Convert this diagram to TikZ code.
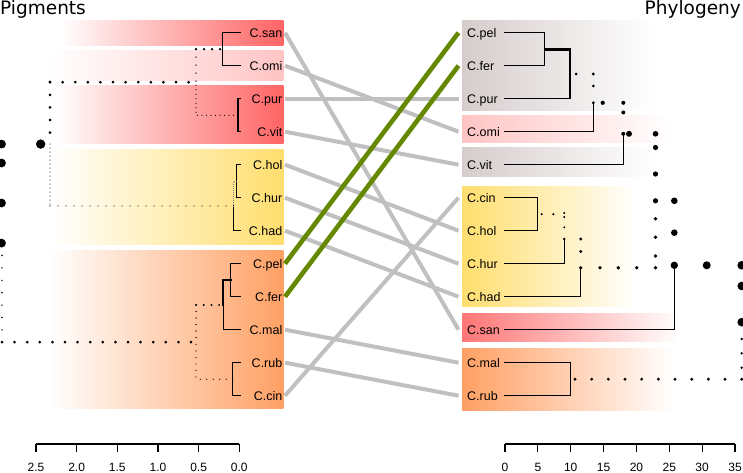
\documentclass[tikz,border=0pt]{standalone}
\usepackage{fontspec}
\setmainfont{Liberation Sans}
\newfontfamily\titlefont{DejaVu Sans}
\definecolor{redL}{RGB}{255,100,100}
\definecolor{pinkL}{RGB}{255,196,196}
\definecolor{yelL}{RGB}{255,222,110}
\definecolor{oraL}{RGB}{255,160,100}
\definecolor{greyR}{RGB}{214,204,204}
\definecolor{redR}{RGB}{255,118,118}
\definecolor{greenC}{RGB}{100,136,0}
\definecolor{greyC}{RGB}{192,192,192}
\begin{document}
\begin{tikzpicture}[x=1pt,y=-1pt,
  lab/.style={font=\fontsize{12.5}{14}\selectfont, inner ysep=0pt, text height=9pt, text depth=0pt},
  labl/.style={lab, anchor=east, inner xsep=2.5pt},
  labr/.style={lab, anchor=west, inner xsep=8.5pt},
  ttl/.style={font=\titlefont\fontsize{18.5}{20}\selectfont, inner sep=0pt},
  axl/.style={font=\fontsize{12}{14}\selectfont, inner sep=0pt, text height=8.6pt, text depth=0pt},
  axline/.style={line width=1.1pt, black},
  tree/.style={line width=1.1pt, black, line cap=rect},
  conn/.style={line width=4pt, greyC},
  gconn/.style={line width=4.6pt, greenC},
  dotl/.style 2 args={line width=#1, line cap=round, dash pattern=on 0pt off #2, black}]
\useasboundingbox (0,0) rectangle (743,473);
\clip (0,0) rectangle (743,473);

% ---------- titles
\node[ttl, anchor=base west] (tpig) at (0,15) {Pigments};
\node[ttl, anchor=base east] (tphy) at (741,15) {Phylogeny};

% ---------- left bands
\shade[left color=white, right color=redL] (60,21) rectangle (283.3,46);
\shade[left color=white, right color=pinkL] (50,51) rectangle (283.3,80.7);
\shade[left color=white, right color=redL] (55,86) rectangle (283.3,143.3);
\shade[left color=white, right color=yelL] (50,149.3) rectangle (283.3,244);
\shade[left color=white, right color=oraL] (50,250.7) rectangle (283.3,408.3);

% ---------- right bands
\shade[left color=greyR, right color=white] (462,21) rectangle (653,111);
\shade[left color=pinkL, right color=white] (462,116) rectangle (670,142.7);
\shade[left color=greyR, right color=white] (462,148) rectangle (653,176);
\shade[left color=yelL, right color=white] (462,186) rectangle (637,306);
\shade[left color=redR, right color=white] (462,313.3) rectangle (680,341.7);
\shade[left color=oraL, right color=white] (462,348.3) rectangle (673,410);

% ---------- left labels
\node[labl] (Lsan) at (285,32.7) {C.san};
\node[labl] (Lomi) at (285,65.7) {C.omi};
\node[labl] (Lpur) at (285,98.7) {C.pur};
\node[labl] (Lvit) at (285,131.7) {C.vit};
\node[labl] (Lhol) at (285,164.7) {C.hol};
\node[labl] (Lhur) at (285,197.7) {C.hur};
\node[labl] (Lhad) at (285,230.7) {C.had};
\node[labl] (Lpel) at (285,263.7) {C.pel};
\node[labl] (Lfer) at (285,296.7) {C.fer};
\node[labl] (Lmal) at (285,329.7) {C.mal};
\node[labl] (Lrub) at (285,362.7) {C.rub};
\node[labl] (Lcin) at (285,395.7) {C.cin};

% ---------- right labels
\node[labr] (Rpel) at (458.5,32.7) {C.pel};
\node[labr] (Rfer) at (458.5,65.7) {C.fer};
\node[labr] (Rpur) at (458.5,98.7) {C.pur};
\node[labr] (Romi) at (458.5,131.7) {C.omi};
\node[labr] (Rvit) at (458.5,164.7) {C.vit};
\node[labr] (Rcin) at (458.5,197.7) {C.cin};
\node[labr] (Rhol) at (458.5,230.7) {C.hol};
\node[labr] (Rhur) at (458.5,263.7) {C.hur};
\node[labr] (Rhad) at (458.5,296.7) {C.had};
\node[labr] (Rsan) at (458.5,329.7) {C.san};
\node[labr] (Rmal) at (458.5,362.7) {C.mal};
\node[labr] (Rrub) at (458.5,395.7) {C.rub};

% ---------- connectors
\foreach \n in {san,omi,pur,vit,hol,hur,had,mal,rub,cin}
  \draw[conn] (L\n.east) -- (R\n.west);
\draw[gconn] (Lpel.east) -- (Rpel.west);
\draw[gconn] (Lfer.east) -- (Rfer.west);

% ---------- left tree (solid)
\draw[tree] (240,32.7) -- (222.7,32.7) -- (222.7,65.7) -- (240,65.7);
\draw[tree] (240,98.7) -- (238,98.7) -- (238,131.7) -- (240,131.7);
\draw[tree] (240,164.7) -- (236.7,164.7) -- (236.7,197.7) -- (240,197.7);
\draw[tree] (233.3,206) -- (233.3,230.7) -- (240,230.7);
\draw[line width=1pt, gray, dash pattern=on 1pt off 1pt] (236.7,181.2) -- (233.3,181.2) -- (233.3,206);
\draw[tree] (240,263.7) -- (230.7,263.7) -- (230.7,296.7) -- (240,296.7);
\draw[tree, line width=2pt] (230.7,280.2) -- (223.3,280.2) -- (223.3,305);
\draw[tree] (223.3,305) -- (223.3,329.7) -- (240,329.7);
\draw[tree] (240,362.7) -- (232.7,362.7) -- (232.7,395.7) -- (240,395.7);

% ---------- left tree (dotted)
\draw[dotl={2.6pt}{8pt}] (196,49.2) -- (222.7,49.2);
\draw[dotl={1.5pt}{8pt}] (196,49.2) -- (196,82.2);
\draw[dotl={1.2pt}{4.5pt}] (238,115.2) -- (196,115.2) -- (196,82.2);
\draw[dotl={3pt}{12.6pt}] (50,82.2) -- (196,82.2);
\draw[dotl={3pt}{12.6pt}] (50,82.2) -- (50,144.1);
\draw[dotl={1.3pt}{8pt}] (50,206) -- (233.3,206);
\draw[dotl={1.2pt}{4pt}] (50,144.1) -- (50,206);
\foreach \y in {144.1,163,203,243.1} \fill (1.5,\y) circle (4.4pt);
\fill (40.7,144.1) circle (4.7pt);
\draw[dotl={1.6pt}{12.4pt}] (2,243.1) -- (2,342.1);
\draw[dotl={3pt}{12.6pt}] (2,342.1) -- (196,342.1);
\draw[dotl={2.2pt}{7.7pt}] (196,305) -- (223.3,305);
\draw[dotl={1.5pt}{6.5pt}] (196,305) -- (196,342.1);
\draw[dotl={1.3pt}{6.5pt}] (232.7,379.2) -- (196,379.2) -- (196,342.1);

% ---------- right tree (solid)
\draw[tree] (505,32.7) -- (544.3,32.7) -- (544.3,65.7) -- (505,65.7);
\draw[tree, line width=2.8pt, line cap=butt] (544.3,49.2) -- (570,49.2) -- (570,74);
\draw[tree] (505,98.7) -- (570,98.7) -- (570,74);
\draw[tree] (505,131.7) -- (593.3,131.7) -- (593.3,102.8);
\draw[tree] (505,164.7) -- (623.3,164.7) -- (623.3,133.8);
\draw[tree] (505,197.7) -- (537.7,197.7) -- (537.7,230.7) -- (505,230.7);
\draw[tree] (505,263.7) -- (564.3,263.7) -- (564.3,239);
\draw[tree] (505,296.7) -- (580.7,296.7) -- (580.7,267.8);
\draw[tree] (505,329.7) -- (674.3,329.7) -- (674.3,265.3);
\draw[tree] (505,362.7) -- (570.7,362.7) -- (570.7,395.7) -- (505,395.7);

% ---------- right tree (dotted)
\foreach \x/\y/\r in {
  576/74/1.5, 593.3/74/1.6, 593.3/86/1.5, 593.3/102.8/1.6,
  602.7/102.8/2.1, 623.3/102.8/2, 623.3/112.5/2, 623.3/133.8/2,
  629/133.8/3, 655.5/133.8/2.8, 655.5/147.5/2.6, 655.5/174/2.6, 655.5/200.8/2.6,
  541.7/214.2/1.2, 553.3/214.2/1.2, 564.3/213/1.1, 564.3/217/1.1, 564.3/227.3/1.1, 564.3/239/1.4,
  580.7/239/1.6, 580.7/251.5/1.6, 580.7/267.8/1.8,
  600/267.8/1.9, 618.3/267.8/1.9, 636.7/267.8/1.9, 655.5/267.8/1.9,
  655.5/256/1.9, 655.5/237.3/1.9, 655.5/218.7/1.9,
  674.3/200.8/3.3, 674.3/232.7/3.3, 674.3/265.3/3.7,
  706.7/265.3/4, 741.7/265.3/4.3, 741.7/286/4.3, 741.7/322.2/4.3,
  741.7/339/1.3, 741.7/353.3/1.3, 741.7/367.7/1.3}
  \fill (\x,\y) circle (\r pt);
\draw[dotl={3.2pt}{16.67pt}] (575,379.2) -- (742,379.2);

% ---------- left axis
\draw[axline] (36,444) -- (239.3,444);
\foreach \i/\t in {0/2.5,1/2.0,2/1.5,3/1.0,4/0.5,5/0.0} {
  \draw[axline] (36+40.66*\i,444) -- ++(0,7.5);
  \node[axl] (la\i) at (36+40.66*\i,466.8) {\t};
}
% ---------- right axis
\draw[axline] (505,444) -- (735,444);
\foreach \i/\t in {0/0,1/5,2/10,3/15,4/20,5/25,6/30,7/35} {
  \draw[axline] (505+32.857*\i,444) -- ++(0,7.5);
  \node[axl] (ra\i) at (505+32.857*\i,466.8) {\t};
}
\end{tikzpicture}
\end{document}
